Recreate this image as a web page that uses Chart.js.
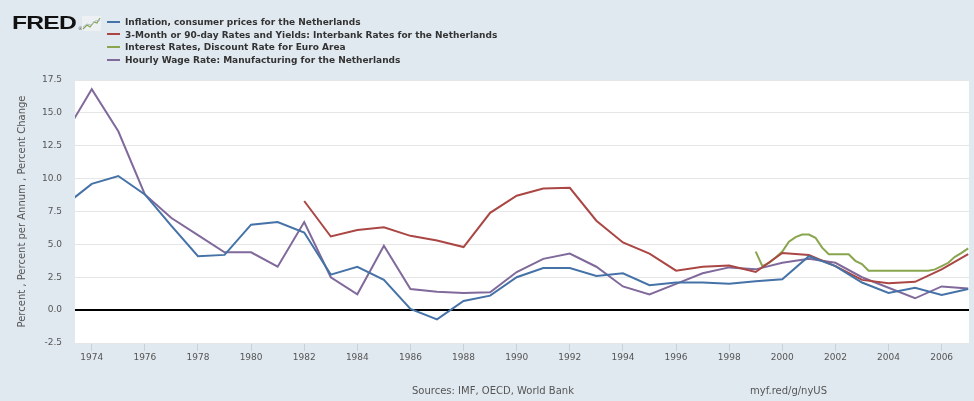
<!DOCTYPE html>
<html>
<head>
<meta charset="utf-8">
<script src="https://cdn.jsdelivr.net/npm/chart.js@4"></script>
<style>
  html, body { margin: 0; padding: 0; }
  body { width: 974px; height: 401px; background: #e1e9f0; position: relative; overflow: hidden; font-family: 'DejaVu Sans', sans-serif; }
  #wrap { position: absolute; left: 0; top: 0; width: 974px; height: 401px; }
  #logo { position: absolute; left: 12px; top: 12px; font: 900 19px 'Liberation Sans', Arial, sans-serif; color: #111; transform: scaleX(1.3); transform-origin: left top; letter-spacing: -0.6px; }
  #reg { position: absolute; left: 78px; top: 25px; font: 5px 'DejaVu Sans', sans-serif; color: #555; }
  #icon { position: absolute; left: 82px; top: 16px; }
  #legend { position: absolute; left: 107px; top: 17px; }
  .item { height: 12.7px; line-height: 12.7px; font: bold 9px 'DejaVu Sans', sans-serif; color: #333; white-space: nowrap; }
  .item span.dash { display: inline-block; width: 13px; height: 2px; vertical-align: middle; margin-right: 5px; position: relative; top: -1px; }
  .foot { position: absolute; top: 385px; font: 10px 'DejaVu Sans', sans-serif; color: #555; white-space: nowrap; }
</style>
</head>
<body>
<div id="wrap"><canvas id="fredChart" width="974" height="401"></canvas></div>
<div id="logo">FRED</div>
<div id="reg">®</div>
<svg id="icon" width="19" height="15" viewBox="0 0 19 15">
  <rect x="0" y="0" width="19" height="15" fill="#edf1f4"/>
  <polyline points="1,13 5,9 8,11 12,6 15,7 18,2" fill="none" stroke="#89a54e" stroke-width="1.2"/>
  <polyline points="1,11 5,8 9,9 13,5 18,4" fill="none" stroke="#a9b8c6" stroke-width="0.9"/>
</svg>
<div id="legend"></div>
<div class="foot" style="left:412px">Sources: IMF, OECD, World Bank</div>
<div class="foot" style="left:750px">myf.red/g/nyUS</div>

<script>
// annual series, 1973-2007
const years = [1973, 1974, 1975, 1976, 1977, 1978, 1979, 1980, 1981, 1982,
  1983, 1984, 1985, 1986, 1987, 1988, 1989, 1990, 1991, 1992,
  1993, 1994, 1995, 1996, 1997, 1998, 1999, 2000, 2001, 2002,
  2003, 2004, 2005, 2006, 2007];

const inflation = [8.0, 9.6, 10.2, 8.8, 6.4, 4.1, 4.2, 6.5, 6.7, 5.9,
  2.7, 3.3, 2.3, 0.1, -0.7, 0.7, 1.1, 2.5, 3.2, 3.2,
  2.6, 2.8, 1.9, 2.1, 2.1, 2.0, 2.2, 2.35, 4.1, 3.35,
  2.1, 1.3, 1.7, 1.15, 1.6];

const interbank = [null, null, null, null, null, null, null, null, null, 8.3,
  5.6, 6.1, 6.3, 5.65, 5.3, 4.8, 7.4, 8.7, 9.25, 9.3,
  6.8, 5.15, 4.3, 3.0, 3.3, 3.4, 2.9, 4.35, 4.2, 3.35,
  2.3, 2.05, 2.15, 3.1, 4.25];

const wages = [13.4, 16.8, 13.6, 8.8, 7.0, 5.7, 4.4, 4.4, 3.3, 6.7,
  2.5, 1.2, 4.9, 1.6, 1.4, 1.3, 1.35, 2.9, 3.9, 4.3,
  3.3, 1.8, 1.2, 2.0, 2.8, 3.25, 3.1, 3.6, 3.9, 3.6,
  2.5, 1.7, 0.9, 1.8, 1.65];

// quarterly discount rate, from 1999 Q1
const discountDates = [1999, 1999.25, 1999.5, 1999.75, 2000, 2000.25, 2000.5, 2000.75,
  2001, 2001.25, 2001.5, 2001.75, 2002, 2002.25, 2002.5, 2002.75,
  2003, 2003.25, 2003.5, 2003.75, 2004, 2004.25, 2004.5, 2004.75,
  2005, 2005.25, 2005.5, 2005.75, 2006, 2006.25, 2006.5, 2006.75, 2007];
const discount = [4.45, 3.35, 3.6, 4.0, 4.45, 5.2, 5.55, 5.75,
  5.75, 5.5, 4.75, 4.25, 4.25, 4.25, 4.25, 3.75,
  3.5, 3.0, 3.0, 3.0, 3.0, 3.0, 3.0, 3.0,
  3.0, 3.0, 3.0, 3.1, 3.35, 3.6, 4.05, 4.35, 4.7];

const xTicks = [1974, 1976, 1978, 1980, 1982, 1984, 1986, 1988, 1990,
  1992, 1994, 1996, 1998, 2000, 2002, 2004, 2006];

const toPoints = (xs, ys) => xs.map((x, i) => ({ x: x, y: ys[i] }));

const plotBg = {
  id: 'plotBg',
  beforeDraw(chart) {
    const a = chart.chartArea;
    chart.ctx.save();
    chart.ctx.fillStyle = '#ffffff';
    chart.ctx.fillRect(a.left, a.top, a.right - a.left, a.bottom - a.top);
    chart.ctx.restore();
  }
};

const line = (label, data, color) => ({
  label: label,
  data: data,
  borderColor: color,
  backgroundColor: color,
  borderWidth: 2,
  pointRadius: 0,
  tension: 0,
  spanGaps: false,
  clip: 0
});

const chart = new Chart(document.getElementById('fredChart'), {
  type: 'line',
  data: {
    datasets: [
      line('Inflation, consumer prices for the Netherlands', toPoints(years, inflation), '#4572a7'),
      line('3-Month or 90-day Rates and Yields: Interbank Rates for the Netherlands', toPoints(years, interbank), '#aa4643'),
      line('Interest Rates, Discount Rate for Euro Area', toPoints(discountDates, discount), '#89a54e'),
      line('Hourly Wage Rate: Manufacturing for the Netherlands', toPoints(years, wages), '#80699b')
    ]
  },
  options: {
    responsive: false,
    animation: false,
    layout: { padding: { top: 80, right: 5, left: 0, bottom: 0 } },
    plugins: { legend: { display: false }, tooltip: { enabled: false } },
    scales: {
      x: {
        type: 'linear',
        min: 1973.37,
        max: 2007.03,
        afterBuildTicks: s => { s.ticks = xTicks.map(v => ({ value: v })); },
        afterFit: s => { s.height = 58; },
        border: { display: false },
        grid: { drawOnChartArea: false, drawTicks: true, tickLength: 8, tickColor: '#c8d0d8' },
        ticks: {
          callback: v => String(v),
          color: '#555',
          font: { family: 'DejaVu Sans', size: 9 },
          padding: 1,
          maxRotation: 0,
          autoSkip: false
        }
      },
      y: {
        min: -2.5,
        max: 17.5,
        afterFit: s => { s.width = 75; },
        border: { display: false },
        grid: {
          drawTicks: false,
          color: c => c.tick.value === 0 ? '#000000' : '#e6e6e6',
          lineWidth: c => c.tick.value === 0 ? 2 : 1
        },
        ticks: {
          stepSize: 2.5,
          callback: v => v.toFixed(1),
          color: '#555',
          font: { family: 'DejaVu Sans', size: 9 },
          padding: 13
        },
        title: {
          display: true,
          text: 'Percent , Percent per Annum , Percent Change',
          color: '#555',
          font: { family: 'DejaVu Sans', size: 10 },
          padding: { top: 16, bottom: 0 }
        }
      }
    }
  },
  plugins: [plotBg]
});

// legend built from the chart's own datasets
const legendBox = document.getElementById('legend');
chart.data.datasets.forEach(ds => {
  const row = document.createElement('div');
  row.className = 'item';
  const dash = document.createElement('span');
  dash.className = 'dash';
  dash.style.background = ds.borderColor;
  row.appendChild(dash);
  row.appendChild(document.createTextNode(ds.label));
  legendBox.appendChild(row);
});
</script>
</body>
</html>
